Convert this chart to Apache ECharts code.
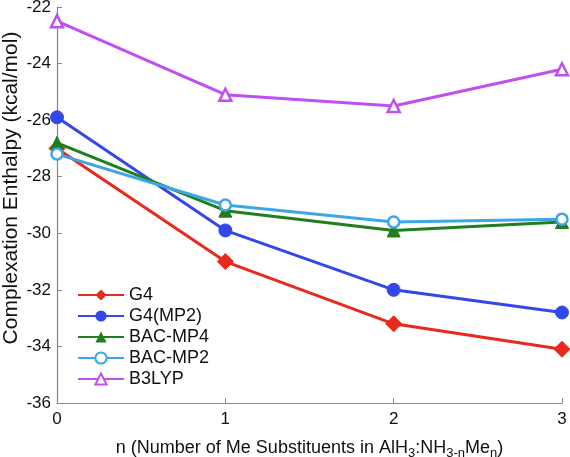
<!DOCTYPE html>
<html><head><meta charset="utf-8">
<script src="https://cdn.jsdelivr.net/npm/echarts@6/dist/echarts.min.js"></script>
<style>html,body{margin:0;padding:0;background:#fff}#c{width:570px;height:457px}</style>
</head><body><div id="c"></div>
<script>
const categories = [0, 1, 2, 3];
const g4 = [-27.0, -31.0, -33.2, -34.1];
const g4mp2 = [-25.9, -29.9, -32.0, -32.8];
const bacmp4 = [-26.8, -29.2, -29.9, -29.6];
const bacmp2 = [-27.2, -29.0, -29.6, -29.5];
const b3lyp = [-22.5, -25.1, -25.5, -24.2];
const yTicks = [-36, -34, -32, -30, -28, -26, -24, -22];
const yTitle = 'Complexation Enthalpy (kcal/mol)';

const pair = a => a.map((v, i) => [categories[i], v]);
const chart = echarts.init(document.getElementById('c'));
const font = 'Liberation Sans, Arial, sans-serif';
function s(name, data, color, symbol, size, hollow) {
  return {
    name, type: 'line', data: pair(data), symbol, symbolSize: size,
    lineStyle: { color, width: 3 },
    itemStyle: hollow ? { color: '#fff', borderColor: color, borderWidth: 2.5 } : { color, borderColor: color },
    emphasis: { disabled: true }, z: 3
  };
}
chart.setOption({
  animation: false,
  grid: { left: 57, right: 8, top: 7, bottom: 54, containLabel: false, outerBoundsMode: 'none' },
  graphic: [{
    type: 'text', x: 11, y: 188, rotation: Math.PI / 2,
    style: { text: yTitle, font: '21px Liberation Sans, Arial, sans-serif', fill: '#111',
      align: 'center', verticalAlign: 'middle' }
  }],
  legend: {
    orient: 'vertical', left: 72, top: 281, itemWidth: 46, itemHeight: 14, itemGap: 3,
    textStyle: { fontFamily: font, fontSize: 18, color: '#111' },
    data: ['G4', 'G4(MP2)', 'BAC-MP4', 'BAC-MP2', 'B3LYP']
  },
  xAxis: {
    type: 'value', min: 0, max: 3, interval: 1,
    name: '{a|n (Number of Me Substituents in AlH}{s|3}{a|:NH}{s|3-n}{a|Me}{s|n}{a|)}',
    nameLocation: 'middle', nameGap: 34, nameMoveOverlap: false,
    nameTextStyle: { rich: {
      a: { fontFamily: font, fontSize: 18, color: '#111' },
      s: { fontFamily: font, fontSize: 13, color: '#111', verticalAlign: 'bottom', padding: [10, 0, 0, 0] }
    } },
    axisLine: { lineStyle: { color: '#888', width: 1.2 } },
    axisTick: { inside: true, length: 5, lineStyle: { color: '#888' } },
    axisLabel: { fontFamily: font, fontSize: 17, color: '#111', margin: 8 },
    splitLine: { show: false }
  },
  yAxis: {
    type: 'value', min: -36, max: -22, interval: 2,
    axisLine: { show: true, lineStyle: { color: '#888', width: 1.2 } },
    axisTick: { show: true, inside: true, length: 5, lineStyle: { color: '#888' } },
    axisLabel: { fontFamily: font, fontSize: 17, color: '#111', margin: 6,
      formatter: v => yTicks.includes(v) ? String(v) : '' },
    splitLine: { show: false }
  },
  series: [
    s('G4', g4, '#e8291c', 'diamond', 16, false),
    s('G4(MP2)', g4mp2, '#3348e8', 'circle', 13, false),
    s('BAC-MP4', bacmp4, '#1f7f1c', 'triangle', 13, false),
    s('BAC-MP2', bacmp2, '#3ca6e6', 'circle', 11, true),
    s('B3LYP', b3lyp, '#c04ff0', 'triangle', 12, true)
  ]
});
</script></body></html>
